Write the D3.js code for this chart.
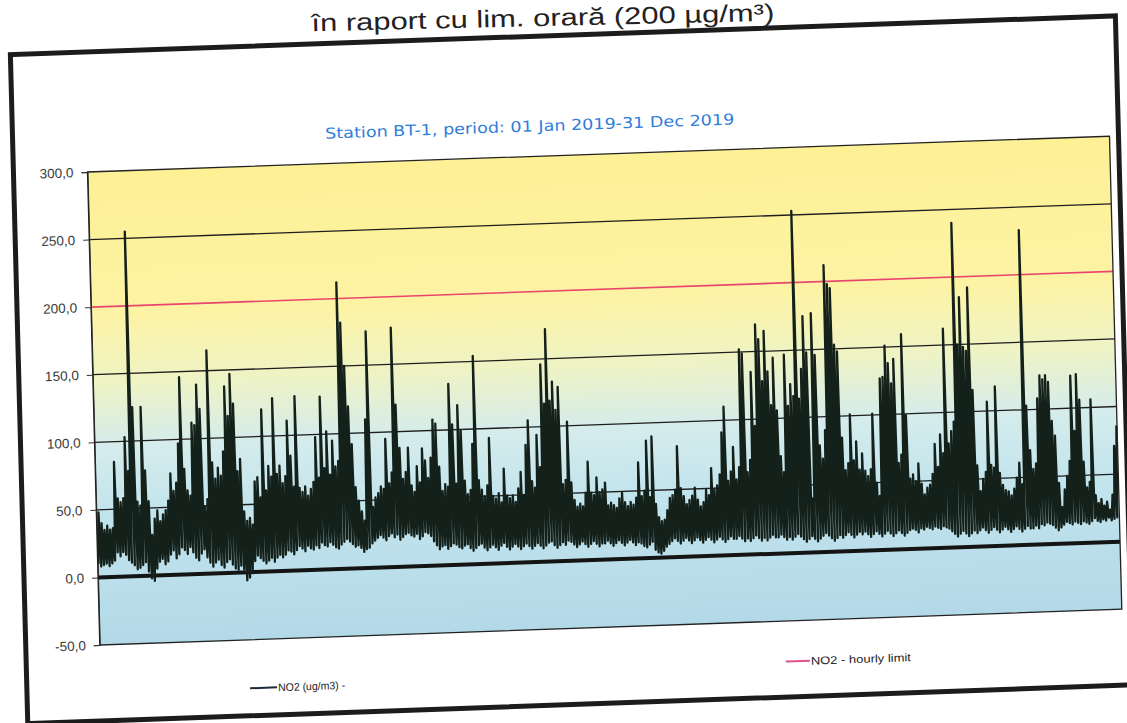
<!DOCTYPE html>
<html>
<head>
<meta charset="utf-8">
<script src="https://d3js.org/d3.v7.min.js"></script>
<style>
  body { margin: 0; background: #ffffff; }
  svg { display: block; }
</style>
</head>
<body>
<div id="chart"></div>
<script>
// Valori NO2: maxim si minim pe zi (365 zile, 2019)
var dailyHigh = [
  48,40,35,38,35,36,85,58,55,58,103,78,255,125,55,52,125,78,55,30,42,48,40,45,48,55,75,62,68,97,146,          // ian
  78,62,58,112,110,140,122,50,55,165,82,70,78,72,90,138,116,147,125,75,84,45,38,40,35,67,70,55,                // feb
  120,60,78,70,128,72,78,65,70,111,85,62,129,61,58,62,55,60,65,98,68,128,75,102,70,95,76,80,212,182,150,      // mar
  120,92,60,50,42,35,110,175,45,52,55,60,58,95,62,70,177,120,88,65,70,88,60,55,74,62,87,78,65,80,             // apr
  108,105,73,55,60,58,134,104,60,118,99,62,52,55,89,154,62,55,50,58,93,50,48,52,45,70,50,48,50,45,55,         // mai
  67,50,87,105,60,55,94,70,146,117,172,119,133,112,129,57,60,103,58,45,40,42,40,50,73,50,48,61,50,52,         // iun
  57,40,42,40,38,45,49,42,39,42,40,45,71,46,50,87,45,90,40,30,27,28,35,44,46,50,82,51,45,39,42,               // iul
  45,51,42,37,40,49,45,65,49,52,60,91,110,55,62,80,56,65,152,149,61,70,135,95,170,159,128,165,135,110,145,    // aug
  106,72,60,147,109,125,116,253,114,136,175,148,40,177,146,79,69,90,212,198,195,153,148,84,60,65,101,67,81,60, // sep
  72,59,55,60,101,50,40,127,128,151,138,123,141,64,70,159,99,52,55,50,63,48,40,45,47,55,77,60,84,70,162,      // oct
  77,86,93,240,150,185,148,145,192,116,60,41,50,55,107,60,58,118,54,45,41,40,37,42,50,61,45,233,103,70,       // noi
  56,60,108,125,122,125,120,91,80,45,27,40,50,61,124,83,125,106,60,41,45,106,35,29,32,27,30,24,35,71,86       // dec
];
var dailyLow = [
  10,8,9,10,8,10,12,18,15,18,16,12,10,8,5,6,8,10,3,-2,-4,5,10,12,8,10,15,18,12,15,20,
  18,15,20,16,12,10,15,18,12,8,5,8,10,6,4,8,10,6,3,2,5,2,-6,-4,0,8,12,10,
  8,6,8,10,7,10,12,10,12,15,14,12,15,18,16,14,18,16,15,18,16,20,18,17,20,18,16,15,18,20,22,
  20,18,16,17,15,12,14,15,18,20,22,24,22,20,23,25,22,24,20,22,24,25,23,22,24,20,22,25,24,22,
  18,15,12,14,15,12,14,16,15,13,12,14,15,12,10,12,14,15,12,10,12,14,12,10,13,15,12,10,12,14,12,
  10,12,14,12,10,12,14,12,10,12,14,15,12,10,12,14,12,15,14,12,10,12,14,12,10,12,14,12,10,12,
  12,14,12,10,12,14,12,10,12,14,12,10,12,11,9,8,10,12,6,4,3,5,8,10,12,14,12,10,12,14,12,
  10,12,14,12,10,12,14,12,10,12,14,12,10,12,14,12,12,14,12,10,12,10,12,14,12,10,12,10,12,14,12,
  12,14,12,10,12,10,12,14,12,10,8,10,12,10,8,10,12,14,12,10,8,10,12,10,12,14,12,10,12,14,
  12,14,12,10,12,14,12,10,12,14,12,10,12,14,12,10,12,14,15,14,12,15,14,16,15,14,16,15,14,16,15,
  14,12,10,8,10,12,10,8,10,12,10,12,14,12,10,12,14,12,10,12,14,12,10,12,14,12,10,12,14,12,
  12,14,12,15,14,16,15,14,12,10,12,14,16,15,14,16,15,14,16,15,14,16,18,16,15,17,16,18,16,17,18
];
var limitDays     = [0, 365];
var limitValues   = [200, 200];
var yTicks        = [-50, 0, 50, 100, 150, 200, 250, 300];
var gridValues    = [50, 100, 150, 250];
var legendLabels  = ['NO2 (ug/m3) -', 'NO2 - hourly limit'];
var chartTitle    = 'Station BT-1, period: 01 Jan 2019-31 Dec 2019';
var pageTitle     = 'în raport cu lim. orară (200 µg/m³)';

// SVG
var chart_width   = 1127;
var chart_height  = 723;
var plot_width    = 1022;
var plot_height   = 473;

var svg = d3.select('#chart')
    .append('svg')
    .attr('width', chart_width)
    .attr('height', chart_height);

// scanarea e putin rotita / inclinata
var g = svg.append('g')
    .attr('transform', 'matrix(1,-0.035,0.026,1,87.5,172)');

// gradient fundal
var grad = svg.append('defs').append('linearGradient')
    .attr('id', 'bg')
    .attr('x1', 0).attr('y1', 0).attr('x2', 0).attr('y2', 1);
[[0, '#fdf095'], [0.3, '#fdf3a4'], [0.45, '#eef3c6'], [0.58, '#d5ecec'], [0.72, '#c2e4ed'], [1, '#b3d9e8']]
    .forEach(function(s){
        grad.append('stop').attr('offset', s[0]).attr('stop-color', s[1]);
    });

// scale
var x_scale = d3.scaleLinear().domain([0, 365]).range([0, plot_width]);
var y_scale = d3.scaleLinear().domain([-50, 300]).range([plot_height, 0]);

var ro = d3.formatLocale({decimal: ',', thousands: '.', grouping: [3], currency: ['', ''], minus: '-'});
var fmt = ro.format('.1f');

// chenar
g.append('rect')
    .attr('x', -74).attr('y', -120)
    .attr('width', 1105).attr('height', 669)
    .attr('fill', '#ffffff')
    .attr('stroke', '#1c1c1c')
    .attr('stroke-width', 5);

// titlu pagina (deasupra chenarului)
svg.append('text')
    .attr('x', 543).attr('y', 26)
    .attr('transform', 'rotate(-1.3,543,26)')
    .attr('text-anchor', 'middle')
    .attr('font-family', 'Liberation Sans, Arial, sans-serif')
    .attr('font-size', 24)
    .attr('fill', '#222')
    .attr('textLength', 463)
    .attr('lengthAdjust', 'spacingAndGlyphs')
    .text(pageTitle);

// titlu grafic
g.append('text')
    .attr('x', 443).attr('y', -25)
    .attr('text-anchor', 'middle')
    .attr('font-family', 'DejaVu Sans, Verdana, sans-serif')
    .attr('font-size', 15)
    .attr('fill', '#2f7ed8')
    .attr('textLength', 409)
    .attr('lengthAdjust', 'spacingAndGlyphs')
    .text(chartTitle);

// zona grafic
g.append('rect')
    .attr('x', 0).attr('y', 0)
    .attr('width', plot_width).attr('height', plot_height)
    .attr('fill', 'url(#bg)');

g.selectAll('line.grid')
    .data(gridValues)
    .enter()
    .append('line')
    .attr('class', 'grid')
    .attr('x1', 0).attr('x2', plot_width)
    .attr('y1', function(d){ return y_scale(d); })
    .attr('y2', function(d){ return y_scale(d); })
    .attr('stroke', '#1e1e1e')
    .attr('stroke-width', 1.3);

// axa y
var y_axis = d3.axisLeft(y_scale)
    .tickValues(yTicks)
    .tickSize(6)
    .tickPadding(8)
    .tickFormat(function(d){ return fmt(d); });
var ya = g.append('g').call(y_axis);
ya.select('.domain').attr('stroke', '#333');
ya.selectAll('.tick line').attr('stroke', '#333');
ya.selectAll('.tick text')
    .attr('font-family', 'Liberation Sans, Arial, sans-serif')
    .attr('font-size', 13.5)
    .attr('fill', '#3a3a3a');

// limita orara
var line = d3.line()
    .x(function(d){ return x_scale(d[0]); })
    .y(function(d){ return y_scale(d[1]); });

g.append('path')
    .datum(d3.zip(limitDays, limitValues))
    .attr('d', line)
    .attr('fill', 'none')
    .attr('stroke', '#e8456e')
    .attr('stroke-width', 1.6);

// linia 0
g.append('line')
    .attr('x1', 0).attr('x2', plot_width)
    .attr('y1', y_scale(0)).attr('y2', y_scale(0))
    .attr('stroke', '#141414')
    .attr('stroke-width', 4);

// serie NO2: minim si maxim pentru fiecare zi
var pts = [];
dailyHigh.forEach(function(h, i){
    pts.push([i + 0.25, dailyLow[i]]);
    pts.push([i + 0.75, h]);
});
g.append('path')
    .datum(pts)
    .attr('d', line)
    .attr('fill', 'none')
    .attr('stroke', '#14201a')
    .attr('stroke-width', 2.3)
    .attr('stroke-linejoin', 'round');

// contur
g.append('rect')
    .attr('x', 0).attr('y', 0)
    .attr('width', plot_width).attr('height', plot_height)
    .attr('fill', 'none')
    .attr('stroke', '#222')
    .attr('stroke-width', 1.3);

// legenda
var legend = [
    {x: 149, y: 521.5, w: 27, color: '#1d2a3a', tw: 67},
    {x: 685, y: 513.5, w: 24, color: '#e0508a', tw: 100}
];
legend.forEach(function(l, i){
    g.append('line')
        .attr('x1', l.x).attr('x2', l.x + l.w)
        .attr('y1', l.y).attr('y2', l.y)
        .attr('stroke', l.color)
        .attr('stroke-width', 2);
    g.append('text')
        .attr('x', l.x + l.w + 1).attr('y', l.y + 4)
        .attr('font-family', 'Liberation Sans Narrow, Liberation Sans, Arial, sans-serif')
        .attr('font-size', 11)
        .attr('fill', '#222')
        .attr('textLength', l.tw)
        .attr('lengthAdjust', 'spacingAndGlyphs')
        .text(legendLabels[i]);
});
</script>
</body>
</html>
